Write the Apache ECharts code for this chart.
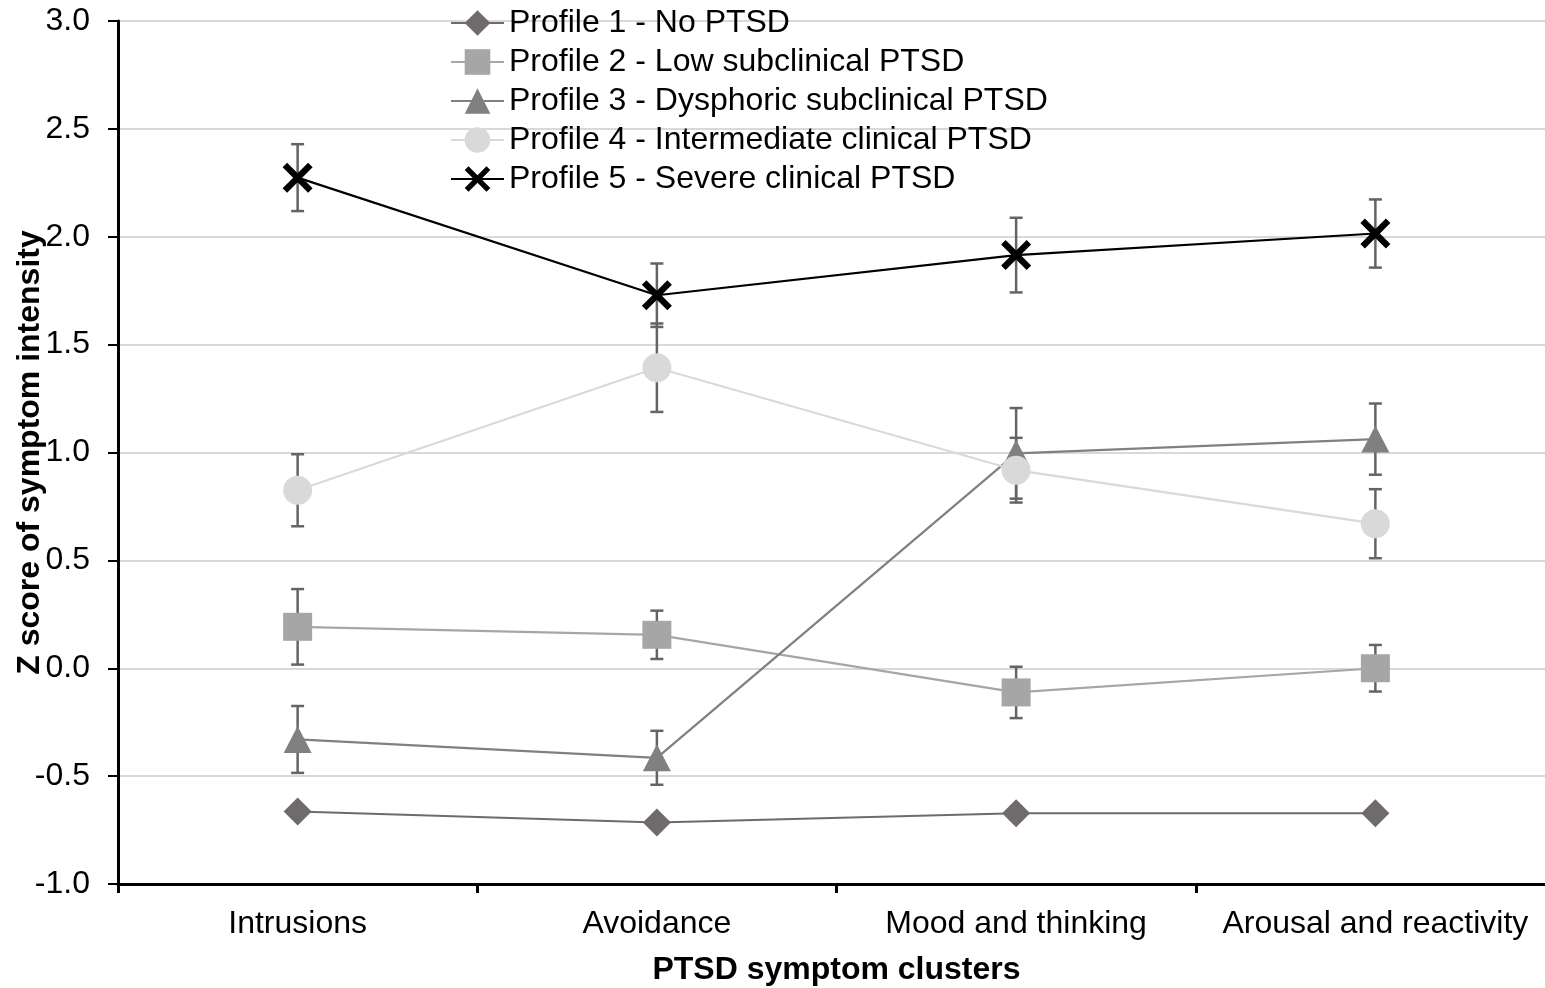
<!DOCTYPE html>
<html>
<head>
<meta charset="utf-8">
<script src="https://cdn.jsdelivr.net/npm/echarts@6/dist/echarts.min.js"></script>
<style>
html,body{margin:0;padding:0;background:#fff;}
#chart{width:1545px;height:988px;}
</style>
</head>
<body>
<div id="chart"></div>
<script>
const categories = ['Intrusions', 'Avoidance', 'Mood and thinking', 'Arousal and reactivity'];
const yTicks = [-1.0, -0.5, 0.0, 0.5, 1.0, 1.5, 2.0, 2.5, 3.0];
const names = [
  'Profile 1 - No PTSD',
  'Profile 2 - Low subclinical PTSD',
  'Profile 3 - Dysphoric subclinical PTSD',
  'Profile 4 - Intermediate clinical PTSD',
  'Profile 5 - Severe clinical PTSD'
];
const p1 = [-0.664, -0.715, -0.672, -0.672];
const p2 = [0.192, 0.155, -0.112, 0.0];
const p3 = [-0.33, -0.415, 0.996, 1.062];
const p4 = [0.825, 1.393, 0.918, 0.67];
const p5 = [2.274, 1.729, 1.915, 2.015];
const e1 = [0.02, 0.02, 0.03, 0.03];
const e2 = [0.175, 0.112, 0.119, 0.108];
const e3 = [0.155, 0.125, 0.21, 0.165];
const e4 = [0.167, 0.205, 0.15, 0.16];
const e5 = [0.155, 0.147, 0.173, 0.158];

const values = [p1, p2, p3, p4, p5];
const errs = [e1, e2, e3, e4, e5];
const lineColors = ['#6f6b6b', '#a6a6a6', '#808080', '#d9d9d9', '#000000'];
const markerColors = ['#6f6b6b', '#a6a6a6', '#808080', '#d9d9d9', '#000000'];
const crossPath = 'path://M3,0 L10,7 L17,0 L20,3 L13,10 L20,17 L17,20 L10,13 L3,20 L0,17 L7,10 L0,3 Z';
const symbols = ['diamond', 'rect', 'triangle', 'circle', crossPath];
const symbolSizes = [[28, 28], [29, 28], [28, 27], [29, 29], [30, 30]];
const FONT = '"Liberation Sans", Arial, sans-serif';

const chart = echarts.init(document.getElementById('chart'), null, {renderer: 'canvas'});

const series = [];
// error bars
values.forEach((vals, i) => {
  series.push({
    type: 'custom',
    name: 'err' + i,
    z: 1,
    silent: true,
    data: vals.map((v, j) => [j, v, errs[i][j]]),
    renderItem: function (params, api) {
      const x = api.value(0), v = api.value(1), e = api.value(2);
      const top = api.coord([x, v + e]);
      const bot = api.coord([x, v - e]);
      const hw = 6.5;
      const st = {stroke: '#646464', lineWidth: 2.5};
      return {
        type: 'group',
        children: [
          {type: 'line', shape: {x1: top[0], y1: top[1], x2: bot[0], y2: bot[1]}, style: st},
          {type: 'line', shape: {x1: top[0] - hw, y1: top[1], x2: top[0] + hw, y2: top[1]}, style: st},
          {type: 'line', shape: {x1: bot[0] - hw, y1: bot[1], x2: bot[0] + hw, y2: bot[1]}, style: st}
        ]
      };
    }
  });
});
values.forEach((vals, i) => {
  series.push({
    type: 'line',
    name: names[i],
    z: 3 + i,
    data: vals,
    symbol: symbols[i],
    symbolSize: symbolSizes[i],
    showAllSymbol: true,
    lineStyle: {color: lineColors[i], width: 2.2},
    itemStyle: {color: markerColors[i], borderWidth: 0},
    emphasis: {disabled: true},
    animation: false
  });
});

chart.setOption({
  animation: false,
  backgroundColor: '#ffffff',
  legend: {
    data: names,
    orient: 'vertical',
    left: 450,
    top: 7,
    padding: 0,
    itemWidth: 53,
    itemHeight: 32,
    itemGap: 7,
    textStyle: {fontFamily: FONT, fontSize: 32, color: '#000', lineHeight: 32},
    selectedMode: false
  },
  grid: {left: 118, top: 21, width: 1437, height: 863, containLabel: false, outerBoundsMode: 'none'},
  xAxis: {
    type: 'category',
    data: categories,
    boundaryGap: true,
    name: 'PTSD symptom clusters',
    nameLocation: 'middle',
    nameGap: 70,
    nameMoveOverlap: false,
    nameTextStyle: {fontFamily: FONT, fontSize: 32, fontWeight: 'bold', color: '#000'},
    axisLine: {onZero: false, lineStyle: {color: '#000', width: 3}},
    axisTick: {show: true, interval: 0, length: 9, lineStyle: {color: '#000', width: 3}},
    axisLabel: {fontFamily: FONT, fontSize: 32, color: '#000', margin: 24, interval: 0},
    splitLine: {show: false}
  },
  yAxis: {
    type: 'value',
    min: -1,
    max: 3,
    interval: 0.5,
    name: 'Z score of symptom intensity',
    nameLocation: 'middle',
    nameGap: 72,
    nameMoveOverlap: false,
    nameRotate: 90,
    nameTextStyle: {fontFamily: FONT, fontSize: 32, fontWeight: 'bold', color: '#000'},
    axisLine: {show: true, lineStyle: {color: '#000', width: 3}},
    axisTick: {show: true, length: 10, lineStyle: {color: '#000', width: 2}},
    axisLabel: {fontFamily: FONT, fontSize: 32, color: '#000', margin: 28,
      formatter: v => yTicks.indexOf(v) >= 0 ? v.toFixed(1) : ''},
    splitLine: {show: true, lineStyle: {color: '#d9d9d9', width: 2}}
  },
  series: series
});
</script>
</body>
</html>
